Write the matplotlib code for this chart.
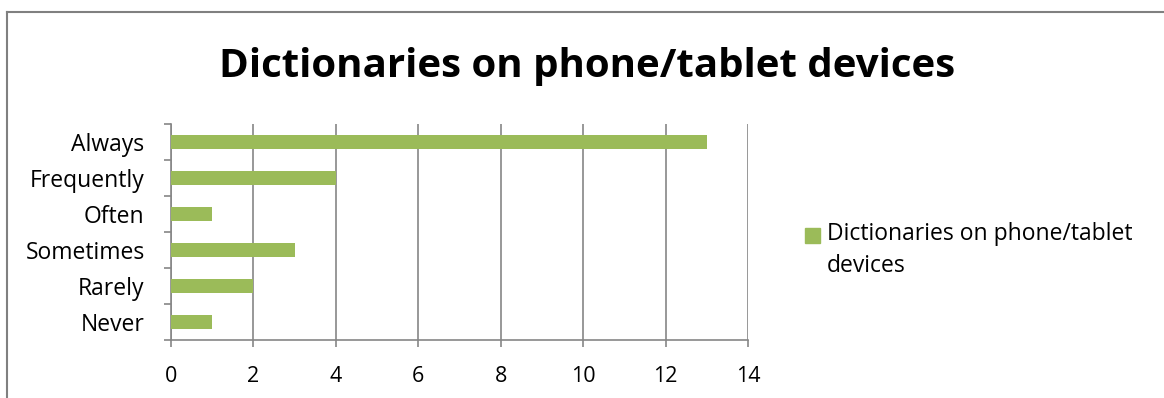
import numpy as np
import matplotlib
matplotlib.use("Agg")
import matplotlib.pyplot as plt
from matplotlib.lines import Line2D
from matplotlib.patches import Rectangle

plt.rcParams['font.family'] = ['Open Sans', 'DejaVu Sans']

categories = ['Always', 'Frequently', 'Often', 'Sometimes', 'Rarely', 'Never']
counts = [13, 4, 1, 3, 2, 1]
x_ticks = [0, 2, 4, 6, 8, 10, 12, 14]
series_name = 'Dictionaries on phone/tablet devices'
legend_label = 'Dictionaries on phone/tablet\ndevices'

W, H = 1164, 398
fig = plt.figure(figsize=(W / 100, H / 100), dpi=100)

# plot area in pixels
left, right, top, bottom = 171, 748, 124, 340
ax = fig.add_axes([left / W, 1 - bottom / H, (right - left) / W, (bottom - top) / H])

green = '#9BBB59'
grey = '#868686'

y = np.arange(len(categories))
ax.barh(y, counts, height=0.4, color=green, zorder=3)
ax.set_ylim(len(categories) - 0.5, -0.5)
ax.set_xlim(0, 14)

ax.set_xticks(x_ticks)
ax.set_xticklabels([str(v) for v in x_ticks])
ax.set_yticks(y)
ax.set_yticklabels(categories)
ax.set_yticks(np.arange(len(categories) + 1) - 0.5, minor=True)

ax.grid(axis='x', color=grey, linewidth=1.2, zorder=0)
for s in ['top', 'right']:
    ax.spines[s].set_visible(False)
for s in ['left', 'bottom']:
    ax.spines[s].set_color(grey)
    ax.spines[s].set_linewidth(1.2)

ax.tick_params(axis='y', which='major', length=0, pad=19, labelsize=16.5)
ax.tick_params(axis='y', which='minor', length=5, width=1.2, color=grey)
ax.tick_params(axis='x', which='major', length=5, width=1.2, color=grey,
               pad=14, labelsize=15.5)

fig.text(587 / W, 1 - 66 / H, series_name, ha='center', va='center',
         fontsize=29, fontweight='bold')

# legend (square + wrapped label, like the Excel one)
fig.add_artist(Rectangle((805 / W, 1 - 243 / H), 15 / W, 15 / H, color=green,
                         transform=fig.transFigure))
fig.text(827 / W, 1 - 222 / H, legend_label, ha='left', va='top',
         fontsize=16.5, linespacing=1.45)

# outer chart frame
fig.add_artist(Line2D([7 / W, 1], [1 - 12 / H, 1 - 12 / H], color='#808080',
                      linewidth=1.5, transform=fig.transFigure))
fig.add_artist(Line2D([7 / W, 7 / W], [0, 1 - 12 / H], color='#808080',
                      linewidth=1.5, transform=fig.transFigure))

fig.savefig('out.png', dpi=100)
